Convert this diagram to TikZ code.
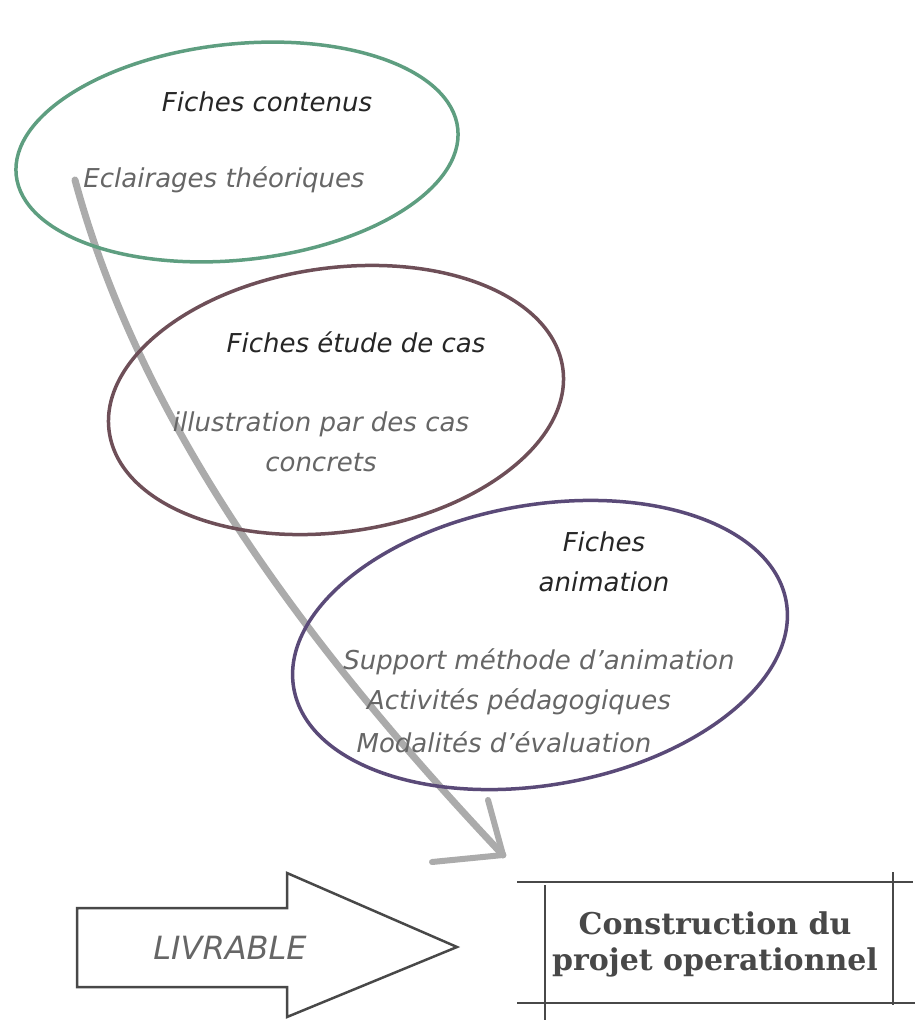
\documentclass[tikz,border=0pt]{standalone}
\usepackage{fontspec}
\newfontfamily\mainhand{DejaVu Sans}
\newfontfamily\slabfont{DejaVu Serif}

\definecolor{vertfiche}{HTML}{5E9E80}
\definecolor{bruncas}{HTML}{6E4F58}
\definecolor{violetanim}{HTML}{5A4A78}
\definecolor{grisfleche}{HTML}{ABABAB}
\definecolor{griscadre}{HTML}{484848}

\begin{document}
\begin{tikzpicture}[x=1pt,y=-1pt,
    hand/.style={font=\mainhand\itshape\fontsize{26}{40}\selectfont, text=black!85},
    handsub/.style={font=\mainhand\itshape\fontsize{26}{40}\selectfont, text=black!60, align=center},
    bulle/.style={line width=3.5pt},
    boite/.style={font=\slabfont\bfseries\fontsize{30}{36}\selectfont, text=griscadre, align=center}]
        \useasboundingbox (0,0) rectangle (915,1022);

        % Grey arrow running down through the three bubbles
        \coordinate (depart) at (75,180);
        \coordinate (pointe) at (503,855);
        \coordinate (aile1) at (432,862);
        \coordinate (aile2) at (488,800);
        \draw[grisfleche, line width=7pt, line cap=round] (depart) .. controls (140,420) and (300,640) .. (pointe);
        \draw[grisfleche, line width=6pt, line cap=round] (pointe) -- (aile1);
        \draw[grisfleche, line width=6pt, line cap=round] (pointe) -- (aile2);

        % Bubble 1: contenus
        \draw[vertfiche, bulle, rotate around={6:(237,152)}] (237,152) ellipse [x radius=222, y radius=108];
        \node[hand] (contenus) at (267,102) {Fiches contenus};
        \node[handsub] (eclairages) at (224,180) {Eclairages théoriques};

        % Bubble 2: etude de cas
        \draw[bruncas, bulle, rotate around={8:(336,400)}] (336,400) ellipse [x radius=229, y radius=132];
        \node[hand] (etude) at (356,342) {Fiches étude de cas};
        \node[handsub] (illustration) at (321,442) {illustration par des cas\\concrets};

        % Bubble 3: animation
        \draw[violetanim, bulle, rotate around={10:(540,645)}] (540,645) ellipse [x radius=250, y radius=140];
        \node[hand, align=center] (animation) at (604,562) {Fiches\\animation};
        \node[handsub] (support) at (539,662) {Support méthode d’animation};
        \node[handsub] (activites) at (519,702) {Activités pédagogiques};
        \node[handsub] (modalites) at (504,742) {Modalités d’évaluation};

        % LIVRABLE block arrow
        \draw[griscadre, line width=2.5pt, line join=miter] (77,908) -- (287,908) -- (287,873) -- (457,947)
            -- (287,1017) -- (287,987) -- (77,987) -- cycle;
        \node[handsub, font=\mainhand\itshape\fontsize{32}{40}\selectfont] (livrable) at (230,948) {LIVRABLE};

        % Sketchy frame round the result
        \node[boite] (projet) at (715,944) {Construction du\\projet operationnel};
        \draw[griscadre, line width=1.5pt] (517,882) -- (913,882);
        \draw[griscadre, line width=1.5pt] (517,1003) -- (915,1003);
        \draw[griscadre, line width=1.5pt] (545,885) -- (545,1020);
        \draw[griscadre, line width=1.5pt] (893,872) -- (893,1005);
    \end{tikzpicture}
\end{document}
